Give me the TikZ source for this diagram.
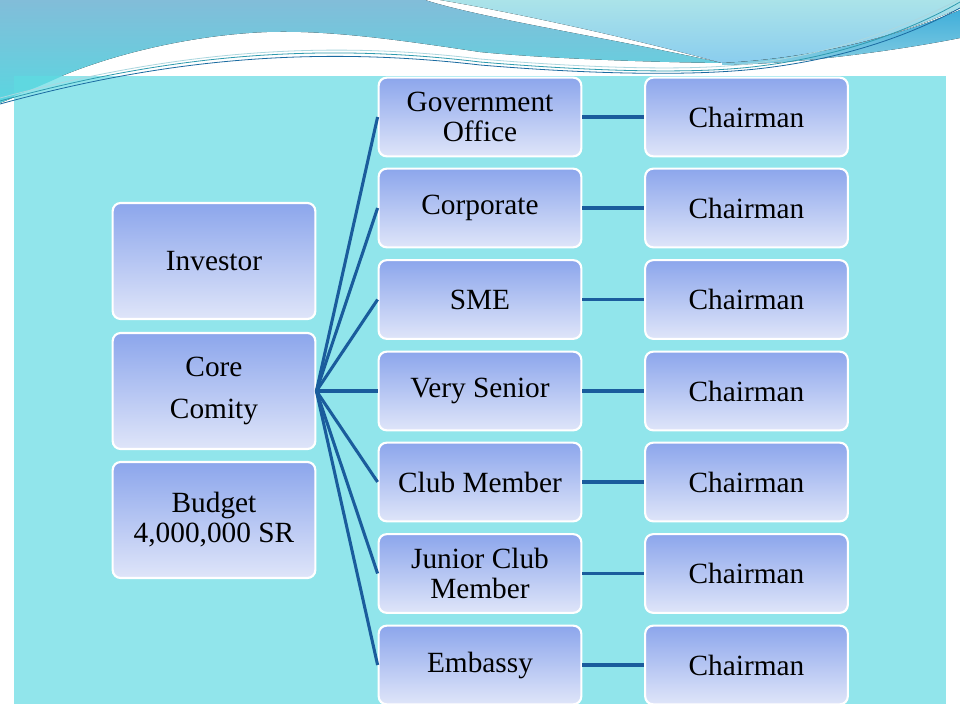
\documentclass[tikz,border=0pt]{standalone}
\usepackage{fontspec}
\setmainfont{Liberation Serif}
\definecolor{bgc}{HTML}{91E5EB}
\definecolor{boxtop}{HTML}{8CA6EC}
\definecolor{boxbot}{HTML}{DFE5F9}
\definecolor{linec}{HTML}{1A5C9C}
\definecolor{waveA}{HTML}{82BDD9}
\definecolor{waveB}{HTML}{5AD6E0}
\definecolor{waveC}{HTML}{ABE3E9}
\definecolor{waveD}{HTML}{8ACDEE}
\definecolor{bandA}{HTML}{40AEDA}
\definecolor{bandB}{HTML}{84CDE2}
\definecolor{thinA}{HTML}{2E9AAE}
\definecolor{thinB}{HTML}{1A6AA0}
\definecolor{wedge}{HTML}{5FD8E0}
\begin{document}
\begin{tikzpicture}[x=0.75pt,y=-0.75pt,
  box/.style={draw=white,line width=1.6pt,rounded corners=6pt,
    top color=boxtop,bottom color=boxbot,minimum width=152pt,
    minimum height=59pt,align=center,inner sep=2pt,
    font=\fontsize{22}{22.5}\selectfont},
  tallbox/.style={box,minimum height=87pt},
  conn/.style={draw=linec,line width=2.3pt},
  thin/.style={line width=0.6pt}]
\useasboundingbox (0,0) rectangle (960,720);
\fill[white] (0,0) rectangle (960,720);
% waves
\fill[top color=waveA,bottom color=waveB]
  (0,0) -- (425,0) .. controls (480,18) and (620,40) .. (722,63)
  .. controls (640,62) and (540,58) .. (480,52)
  .. controls (400,40) and (330,30) .. (267,32)
  .. controls (190,35) and (110,55) .. (57,78)
  .. controls (40,86) and (20,95) .. (0,103) -- cycle;
\fill[top color=waveC,bottom color=waveD]
  (440,0) -- (960,0) -- (960,8) .. controls (900,35) and (820,58) .. (722,63)
  .. controls (620,35) and (500,10) .. (440,0) -- cycle;
\fill[top color=bandA,bottom color=bandB]
  (722,63) .. controls (820,58) and (900,35) .. (960,10)
  -- (960,38) .. controls (900,50) and (800,64) .. (722,65) -- cycle;
% content background
\fill[bgc] (14,76) rectangle (946,704);
\fill[wedge] (14,76) -- (62,76) .. controls (45,84) and (30,90) .. (14,96) -- cycle;
% thin lines
\draw[thin,thinA] (0,101) .. controls (150,60) and (300,40) .. (480,62)
  .. controls (600,72) and (700,74) .. (760,66) .. controls (850,55) and (920,25) .. (960,2);
\draw[thin,thinB] (0,104) .. controls (150,63) and (300,44) .. (480,65)
  .. controls (600,75) and (700,76) .. (765,68) .. controls (855,57) and (920,30) .. (960,8);
\draw[thin,white!60!thinA] (0,98) .. controls (150,58) and (300,37) .. (480,59)
  .. controls (600,69) and (700,71) .. (755,63) .. controls (845,52) and (920,20) .. (960,-1);
% left column
\node[tallbox] (inv) at (214,261) {Investor};
\node[tallbox] (core) at (214,391) {Core\\[9.5pt]Comity};
\node[tallbox] (bud) at (214,520) {Budget\\4,000,000 SR};
% middle column
\node[box] (m1) at (480,117) {Government\\Office};
\node[box] (m2) at (480,208) {Corporate};
\node[box] (m3) at (480,299.5) {SME};
\node[box] (m4) at (480,391) {Very Senior};
\node[box] (m5) at (480,482) {Club Member};
\node[box] (m6) at (480,573.5) {Junior Club\\Member};
\node[box] (m7) at (480,665) {Embassy};
% right column
\foreach \i/\y in {1/117,2/208,3/299.5,4/391,5/482,6/573.5,7/665}{
  \node[box] (c\i) at (746.5,\y) {Chairman};
}
% connectors
\foreach \i in {1,...,7}{
  \draw[conn] (core.east) -- (m\i.west);
  \draw[conn] (m\i.east) -- (c\i.west);
}
\end{tikzpicture}
\end{document}
